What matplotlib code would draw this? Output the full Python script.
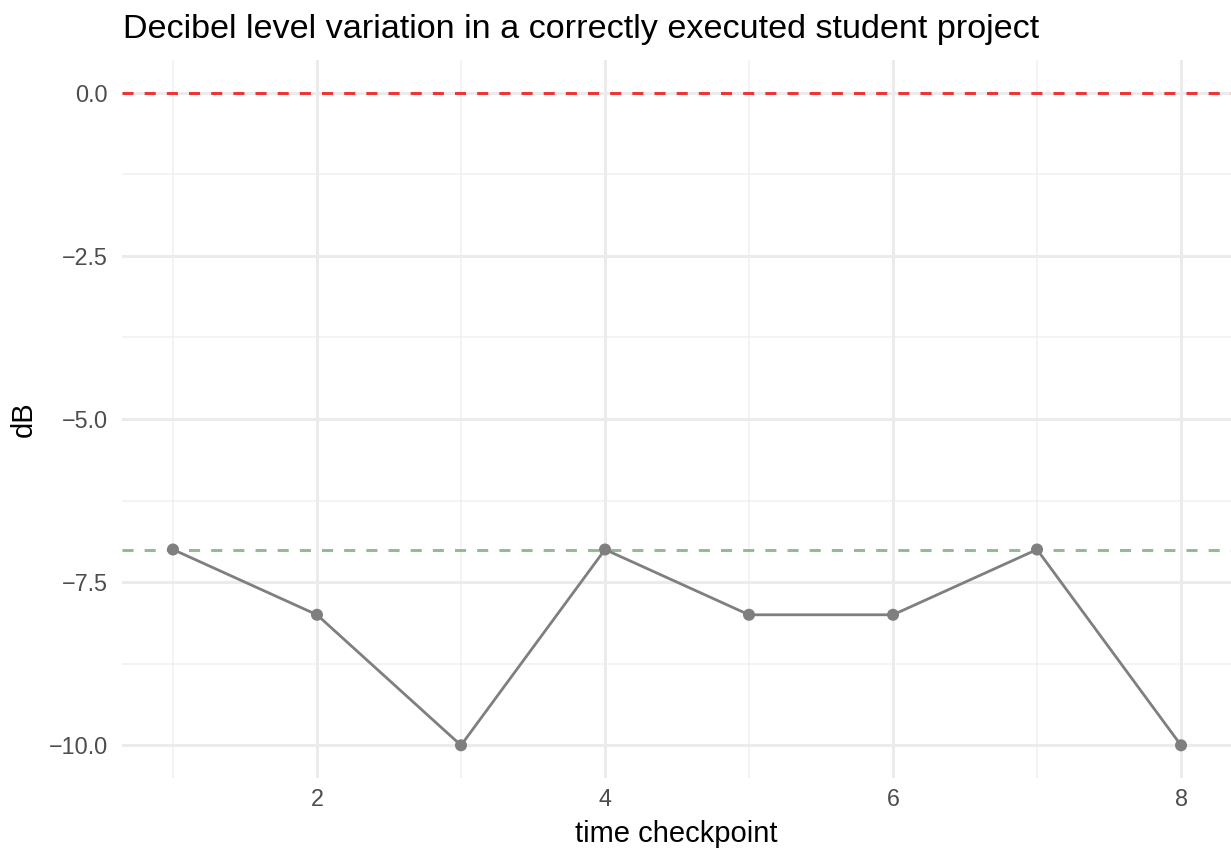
import numpy as np
import matplotlib.pyplot as plt

plt.rcParams['font.family'] = ['Liberation Sans', 'DejaVu Sans']

checkpoints = [1, 2, 3, 4, 5, 6, 7, 8]
db_levels = [-7, -8, -10, -7, -8, -8, -7, -10]
upper_ref = 0.0
target_ref = -7.0

fig = plt.figure(figsize=(12.31, 8.52), dpi=100)
ax = fig.add_axes([0.0991, 0.0869, 0.9009, 0.8427])

# ggplot-like minimal theme grid
for yv in [-8.75, -6.25, -3.75, -1.25]:
    ax.axhline(yv, color='#F0F0F0', lw=1.1, zorder=0)
for xv in [1, 3, 5, 7]:
    ax.axvline(xv, color='#F0F0F0', lw=1.1, zorder=0)
for yv in [-10, -7.5, -5, -2.5, 0]:
    ax.axhline(yv, color='#EBEBEB', lw=2.1, zorder=0)
for xv in [2, 4, 6, 8]:
    ax.axvline(xv, color='#EBEBEB', lw=2.1, zorder=0)

ax.axhline(upper_ref, color='#F23030', lw=2.1, ls=(0, (3.8, 3.8)), zorder=2)
ax.axhline(target_ref, color='#8FBC8F', lw=2.1, ls=(0, (3.8, 3.8)), zorder=2)

ax.plot(checkpoints, db_levels, color='#7F7F7F', lw=2.0, zorder=3)
ax.scatter(checkpoints, db_levels, color='#7F7F7F', s=75, zorder=4, edgecolors='none')

ax.set_xlim(0.646, 8.347)
ax.set_ylim(-10.5, 0.5)
ax.set_xticks([2, 4, 6, 8])
ax.set_yticks([-10, -7.5, -5, -2.5, 0])
ax.set_yticklabels(['\u221210.0', '\u22127.5', '\u22125.0', '\u22122.5', '0.0'])
ax.tick_params(length=0, labelsize=16.8, labelcolor='#4D4D4D')
ax.tick_params(axis='x', pad=7)
ax.tick_params(axis='y', pad=10)
for s in ax.spines.values():
    s.set_visible(False)

fig.text(676.5 / 1231, 1 - 842 / 852, 'time checkpoint', fontsize=21,
         ha='center', va='baseline')
fig.text(24 / 1231, 1 - 419 / 852, 'dB', fontsize=21, rotation=90,
         ha='center', va='center')
fig.text(123 / 1231, 1 - 38 / 852,
         'Decibel level variation in a correctly executed student project',
         fontsize=24.6, va='baseline', ha='left')

fig.savefig('out.png', dpi=100)
